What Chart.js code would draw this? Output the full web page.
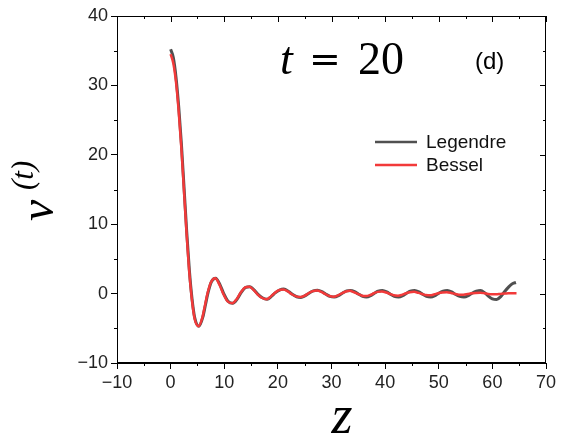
<!DOCTYPE html>
<html>
<head>
<meta charset="utf-8">
<script src="https://cdn.jsdelivr.net/npm/chart.js@4"></script>
<style>
  body { margin: 0; background: #fff; }
  canvas { display: block; }
</style>
</head>
<body>
<canvas id="vChart" width="561" height="438"></canvas>
<script>
// values
const zLegendre = [0, 0.5, 1, 1.5, 2, 2.5, 3, 3.5, 4, 4.5, 5.3, 6, 6.5, 7, 7.6, 8.4, 9.2, 9.9, 10.7, 11.6,
  12.4, 13.2, 14, 14.8, 15.6, 16.3, 17.1, 18, 18.8, 19.5, 20.3, 21.1, 22, 22.7, 23.5, 24.3, 25.1, 25.8,
  26.6, 27.4, 28.2, 28.9, 29.7, 30.5, 31.3, 32, 32.8, 33.5, 34.3, 35, 35.8, 36.5, 37.3, 38, 38.7, 39.5,
  40.3, 41, 41.7, 42.5, 43.3, 44, 44.7, 45.5, 46.3, 47, 47.7, 48.5, 49.3, 50, 50.8, 51.6, 52.4, 53.1,
  53.9, 54.7, 55.5, 56.2, 57, 57.8, 58.6, 59.3, 60, 60.8, 61.6, 62.3, 63.1, 63.8, 64.4];
const vLegendre = [35.2, 34.0, 31.2, 27.0, 21.7, 15.3, 8.9, 3.3, -0.8, -3.5, -4.7, -3.4, -1.6, 0.2, 1.7, 2.2, 1.3, 0, -1.1, -1.4,
  -0.8, 0.2, 0.9, 1.0, 0.5, -0.1, -0.6, -0.8, -0.4, 0.1, 0.5, 0.65, 0.3, -0.1, -0.45, -0.55, -0.3, 0.05,
  0.4, 0.5, 0.3, -0.05, -0.4, -0.5, -0.3, 0.05, 0.4, 0.45, 0.3, -0.05, -0.4, -0.5, -0.3, 0.05, 0.35, 0.45,
  0.25, -0.1, -0.4, -0.5, -0.3, 0.05, 0.35, 0.45, 0.25, -0.1, -0.4, -0.5, -0.3, 0.05, 0.35, 0.45, 0.25, -0.1,
  -0.4, -0.5, -0.3, 0.05, 0.35, 0.45, 0.1, -0.4, -0.75, -0.85, -0.4, 0.3, 1.0, 1.45, 1.6];

const zBessel = [0, 0.5, 1, 1.5, 2, 2.5, 3, 3.5, 4, 4.5, 5.2, 5.9, 6.4, 6.9, 7.5, 8.3, 9.1, 9.8, 10.6, 11.5,
  12.3, 13.1, 13.9, 14.7, 15.5, 16.2, 17, 17.9, 18.7, 19.4, 20.2, 21, 21.9, 22.6, 23.4, 24.2, 25, 25.7,
  26.5, 27.3, 28.1, 28.8, 29.6, 30.4, 31.2, 31.9, 32.7, 33.4, 34.2, 34.9, 35.7, 36.4, 37.2, 37.9, 38.6, 39.4,
  40.2, 40.9, 41.6, 42.4, 43.2, 43.9, 44.6, 45.4, 46.2, 46.9, 47.6, 48.4, 49.2, 49.9, 50.7, 51.5, 52.3, 53,
  53.8, 54.6, 55.4, 56.1, 56.9, 57.7, 58.5, 59.2, 60, 60.7, 61.5, 62.3, 63, 63.8, 64.5];
const vBessel = [34.5, 33.2, 30.5, 26.3, 21.0, 14.7, 8.4, 2.9, -1.1, -3.7, -4.7, -3.5, -1.7, 0.1, 1.6, 2.2, 1.3, 0, -1.1, -1.4,
  -0.8, 0.2, 0.9, 1.0, 0.5, -0.1, -0.6, -0.8, -0.4, 0.1, 0.5, 0.6, 0.3, -0.1, -0.4, -0.5, -0.3, 0.05,
  0.35, 0.45, 0.25, -0.05, -0.35, -0.45, -0.25, 0.05, 0.3, 0.4, 0.2, -0.05, -0.3, -0.35, -0.2, 0.05, 0.25, 0.3,
  0.15, -0.05, -0.25, -0.3, -0.15, 0.05, 0.2, 0.25, 0.1, -0.05, -0.2, -0.25, -0.1, 0.05, 0.15, 0.2, 0.1, -0.05,
  -0.15, -0.15, -0.05, 0.05, 0.1, 0.12, 0.05, -0.05, -0.1, -0.1, -0.05, 0, 0.05, 0.05, 0.05];

const xTicks = [-10, 0, 10, 20, 30, 40, 50, 60, 70];
const yTicks = [-10, 0, 10, 20, 30, 40];
const seriesNames = ['Legendre', 'Bessel'];

const GRAY = 'rgba(65,65,65,0.92)';
const RED = '#f23a3a';

function pts(zs, vs) {
  return zs.map((z, i) => ({ x: z, y: vs[i] }));
}

function minus(v) {
  return String(v).replace('-', '\u2212');
}

// frame, mirror ticks, minor ticks, legend and the math labels
const extras = {
  id: 'extras',
  afterDraw(chart) {
    const ctx = chart.ctx;
    const a = chart.chartArea;
    const xs = chart.scales.x, ys = chart.scales.y;
    ctx.save();
    ctx.strokeStyle = '#000';
    ctx.lineWidth = 1;
    ctx.strokeRect(a.left + 0.5, a.top + 0.5, a.right - a.left - 1, a.bottom - a.top - 1);

    ctx.beginPath();
    for (let v = -10; v <= 70; v += 5) {
      const px = Math.round(xs.getPixelForValue(v)) + 0.5;
      const major = v % 10 === 0;
      if (!major) {
        ctx.moveTo(px, a.bottom); ctx.lineTo(px, a.bottom + 3);
      }
      ctx.moveTo(px, a.top); ctx.lineTo(px, a.top + (major ? 6 : 3));
    }
    for (let v = -10; v <= 40; v += 5) {
      const py = Math.round(ys.getPixelForValue(v)) + 0.5;
      const major = v % 10 === 0;
      if (!major) {
        ctx.moveTo(a.left, py); ctx.lineTo(a.left - 3, py);
      }
      ctx.moveTo(a.right, py); ctx.lineTo(a.right - (major ? 6 : 3), py);
    }
    ctx.stroke();

    // legend
    const items = [[seriesNames[0], GRAY, 142], [seriesNames[1], RED, 165]];
    ctx.font = '19px "Liberation Sans", Arial, sans-serif';
    ctx.textBaseline = 'middle';
    ctx.textAlign = 'left';
    items.forEach(([name, col, y]) => {
      ctx.strokeStyle = col;
      ctx.lineWidth = 2.5;
      ctx.beginPath();
      ctx.moveTo(375, y); ctx.lineTo(417, y);
      ctx.stroke();
      ctx.fillStyle = '#111';
      ctx.fillText(name, 426, y + 1);
    });

    // t = 20
    ctx.fillStyle = '#000';
    ctx.textBaseline = 'alphabetic';
    ctx.font = 'italic 46px "Liberation Serif", serif';
    ctx.fillText('t', 280, 74);
    ctx.font = '38px "DejaVu Serif", serif';
    ctx.fillText('=', 309, 72);
    ctx.font = '46px "Liberation Serif", serif';
    ctx.fillText('20', 358, 74);

    ctx.font = '24px "Liberation Sans", Arial, sans-serif';
    ctx.fillText('(d)', 475, 69);

    // z
    ctx.font = 'italic 54px "Liberation Serif", serif';
    ctx.textAlign = 'center';
    ctx.fillText('z', 342, 433);

    // v^(t)
    ctx.translate(53, 221);
    ctx.rotate(-Math.PI / 2);
    ctx.textAlign = 'left';
    ctx.font = 'italic 48px "Liberation Serif", serif';
    ctx.fillText('v', 0, 0);
    ctx.font = 'italic 31px "Liberation Serif", serif';
    ctx.fillText('(t)', 31, -20);
    ctx.restore();
  }
};

new Chart(document.getElementById('vChart').getContext('2d'), {
  type: 'line',
  data: {
    datasets: [
      {
        label: seriesNames[0],
        data: pts(zLegendre, vLegendre),
        borderColor: GRAY,
        borderWidth: 3,
        pointRadius: 0,
        cubicInterpolationMode: 'monotone',
        fill: false,
        order: 2
      },
      {
        label: seriesNames[1],
        data: pts(zBessel, vBessel),
        borderColor: RED,
        borderWidth: 2.5,
        pointRadius: 0,
        cubicInterpolationMode: 'monotone',
        fill: false,
        order: 1
      }
    ]
  },
  options: {
    responsive: false,
    animation: false,
    layout: { padding: { top: 16, right: 15, left: 0, bottom: 0 } },
    plugins: { legend: { display: false }, tooltip: { enabled: false } },
    scales: {
      x: {
        type: 'linear',
        min: -10,
        max: 70,
        afterBuildTicks: s => { s.ticks = xTicks.map(v => ({ value: v })); },
        afterFit: s => { s.height = 75; },
        grid: { drawOnChartArea: false, drawTicks: true, tickLength: 6, color: '#000' },
        border: { display: true, color: '#000' },
        ticks: {
          padding: 3,
          color: '#222',
          maxRotation: 0,
          font: { family: '"Liberation Sans", Arial, sans-serif', size: 18 },
          callback: v => minus(v)
        }
      },
      y: {
        type: 'linear',
        min: -10,
        max: 40,
        afterBuildTicks: s => { s.ticks = yTicks.map(v => ({ value: v })); },
        afterFit: s => { s.width = 117; },
        grid: { drawOnChartArea: false, drawTicks: true, tickLength: 6, color: '#000' },
        border: { display: true, color: '#000' },
        ticks: {
          padding: 3,
          color: '#222',
          font: { family: '"Liberation Sans", Arial, sans-serif', size: 18 },
          callback: v => minus(v)
        }
      }
    }
  },
  plugins: [extras]
});
</script>
</body>
</html>
